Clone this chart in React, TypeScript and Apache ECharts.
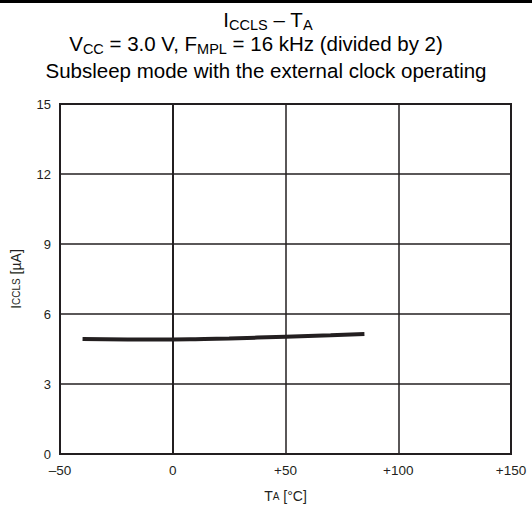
import React, { useEffect, useRef } from "react";
import * as echarts from "echarts";

const temps = [-40, -20, 0, 10, 25, 50, 70, 85];
const iccls = [4.93, 4.91, 4.91, 4.92, 4.95, 5.03, 5.09, 5.14];
const xTicks = [-50, 0, 50, 100, 150];
const yTicks = [0, 3, 6, 9, 12, 15];

const FONT = "Liberation Sans, Arial, sans-serif";
const INK = "#231f20";

export default function App() {
  const ref = useRef<HTMLDivElement>(null);
  useEffect(() => {
    if (!ref.current) return;
    const chart = echarts.init(ref.current, undefined, { renderer: "svg" });
    const rich = {
      a: { fontSize: 20.5, fontFamily: FONT, fontWeight: "normal", fill: "#000", color: "#000", verticalAlign: "bottom" },
      s: { fontSize: 14.5, fontFamily: FONT, fontWeight: "normal", fill: "#000", color: "#000", verticalAlign: "bottom", padding: [0, 0, -3, 0] },
    };
    chart.setOption({
      animation: false,
      backgroundColor: "#fff",
      graphic: [
        { type: "rect", shape: { x: 0, y: 0, width: 532, height: 3 }, style: { fill: "#000" } },
        {
          type: "text",
          x: 268,
          y: 19,
          style: { text: "{a|I}{s|CCLS}{a| – T}{s|A}", rich, align: "center", verticalAlign: "middle" },
        },
        {
          type: "text",
          x: 256,
          y: 43,
          style: {
            text: "{a|V}{s|CC}{a| = 3.0 V, F}{s|MPL}{a| = 16 kHz (divided by 2)}",
            rich,
            align: "center",
            verticalAlign: "middle",
          },
        },
        {
          type: "text",
          x: 266,
          y: 70,
          style: {
            text: "Subsleep mode with the external clock operating",
            fontSize: 20.5,
            fontFamily: FONT,
            fill: "#000",
            align: "center",
            verticalAlign: "middle",
          },
        },
      ],
      grid: {
        left: 60,
        right: 21,
        top: 104,
        bottom: 64,
        show: true,
        borderColor: INK,
        borderWidth: 2,
        backgroundColor: "transparent",
      },
      xAxis: {
        type: "value",
        min: xTicks[0],
        max: xTicks[xTicks.length - 1],
        interval: 50,
        axisLine: { show: true, lineStyle: { color: INK, width: 2 } },
        axisTick: { show: false },
        splitLine: { show: true, lineStyle: { color: INK, width: 1.5 } },
        axisLabel: {
          fontSize: 13.5,
          fontFamily: FONT,
          color: INK,
          margin: 9,
          formatter: (v: number) => (v > 0 ? "+" + v : v < 0 ? "–" + Math.abs(v) : String(v)),
        },
        name: "T{s|A} [°C]",
        nameLocation: "middle",
        nameGap: 35,
        nameTextStyle: {
          fontSize: 14,
          fontFamily: FONT,
          color: INK,
          rich: { s: { fontSize: 10, fontFamily: FONT, color: INK } },
        },
      },
      yAxis: {
        type: "value",
        min: yTicks[0],
        max: yTicks[yTicks.length - 1],
        interval: 3,
        axisLine: { show: true, lineStyle: { color: INK, width: 2 } },
        axisTick: { show: false },
        splitLine: { show: true, lineStyle: { color: INK, width: 1.5 } },
        axisLabel: { fontSize: 13, fontFamily: FONT, color: INK, margin: 9 },
        name: "I{s|CCLS} [µA]",
        nameLocation: "middle",
        nameGap: 37,
        nameTextStyle: {
          fontSize: 14,
          fontFamily: FONT,
          color: INK,
          rich: { s: { fontSize: 10, fontFamily: FONT, color: INK } },
        },
      },
      series: [
        {
          type: "line",
          data: temps.map((t, i) => [t, iccls[i]]),
          smooth: true,
          symbol: "none",
          lineStyle: { color: INK, width: 4 },
        },
      ],
    });
    return () => chart.dispose();
  }, []);
  return (
    <div
      ref={ref}
      style={{ position: "fixed", left: 0, top: 0, width: 532, height: 518 }}
    />
  );
}
